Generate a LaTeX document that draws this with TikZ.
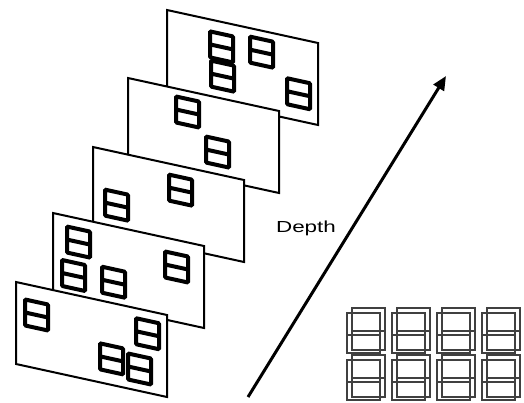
\documentclass[tikz,border=0pt]{standalone}
\usepackage{fontspec}
\setmainfont{Liberation Sans}
\usetikzlibrary{arrows.meta}
\newcommand\pwin[2]{\draw[winbox] (#1+2,#2+2) rectangle (#1+25,#2+28) (#1+2,#2+15) -- (#1+25,#2+15);}
\newcommand\gcell[2]{%
  \draw[gridwin] (#1,#2+5) rectangle (#1+33,#2+45) (#1,#2+27) -- (#1+33,#2+27);
  \draw[gridwin] (#1+5,#2) rectangle (#1+38,#2+42) (#1+5,#2+23) -- (#1+38,#2+23);}
\begin{document}
\begin{tikzpicture}[x=1pt,y=-1pt,
  plane/.style={draw=black, line width=2pt, fill=white},
  winbox/.style={draw=black, line width=4pt, rounded corners=1pt},
  gridwin/.style={draw=black!75, line width=2.2pt}]
\useasboundingbox (0,0) rectangle (524,402);
% plane 5 (back)
\begin{scope}[shift={(167,10)}, yslant=-0.2185]
  \draw[plane] (0,0) rectangle (151,82);
  \pwin{41}{10}\pwin{42}{39}\pwin{81}{6.5}\pwin{118}{40}
\end{scope}
% plane 4
\begin{scope}[shift={(128,78)}, yslant=-0.2185]
  \draw[plane] (0,0) rectangle (151,82);
  \pwin{46}{6}\pwin{76}{39.5}
\end{scope}
% plane 3
\begin{scope}[shift={(93,147)}, yslant=-0.2185]
  \draw[plane] (0,0) rectangle (151,82);
  \pwin{10}{38}\pwin{74}{9}
\end{scope}
% plane 2
\begin{scope}[shift={(53,213)}, yslant=-0.2185]
  \draw[plane] (0,0) rectangle (151,82);
  \pwin{12}{8.5}\pwin{7}{43}\pwin{47}{41}\pwin{110}{12}
\end{scope}
% plane 1 (front)
\begin{scope}[shift={(16,282)}, yslant=-0.2185]
  \draw[plane] (0,0) rectangle (151,82);
  \pwin{7}{13.5}\pwin{118}{8}\pwin{82}{41}\pwin{110}{45}
\end{scope}
% depth arrow
\coordinate (tail) at (248,397);
\coordinate (head) at (446,76);
\draw[line width=3pt, -{Triangle[length=14pt,width=12pt]}] (tail) -- (head);
\node (depth) at (306,228) {\fontsize{16}{18}\selectfont\scalebox{1.4}[1]{Depth}};
% grid of windows
\begin{scope}
  \clip (0,0) rectangle (524,402);
  \foreach \gx in {347,392,437,482}{
    \foreach \gy in {308,355}{\gcell{\gx}{\gy}}}
\end{scope}
\end{tikzpicture}
\end{document}
